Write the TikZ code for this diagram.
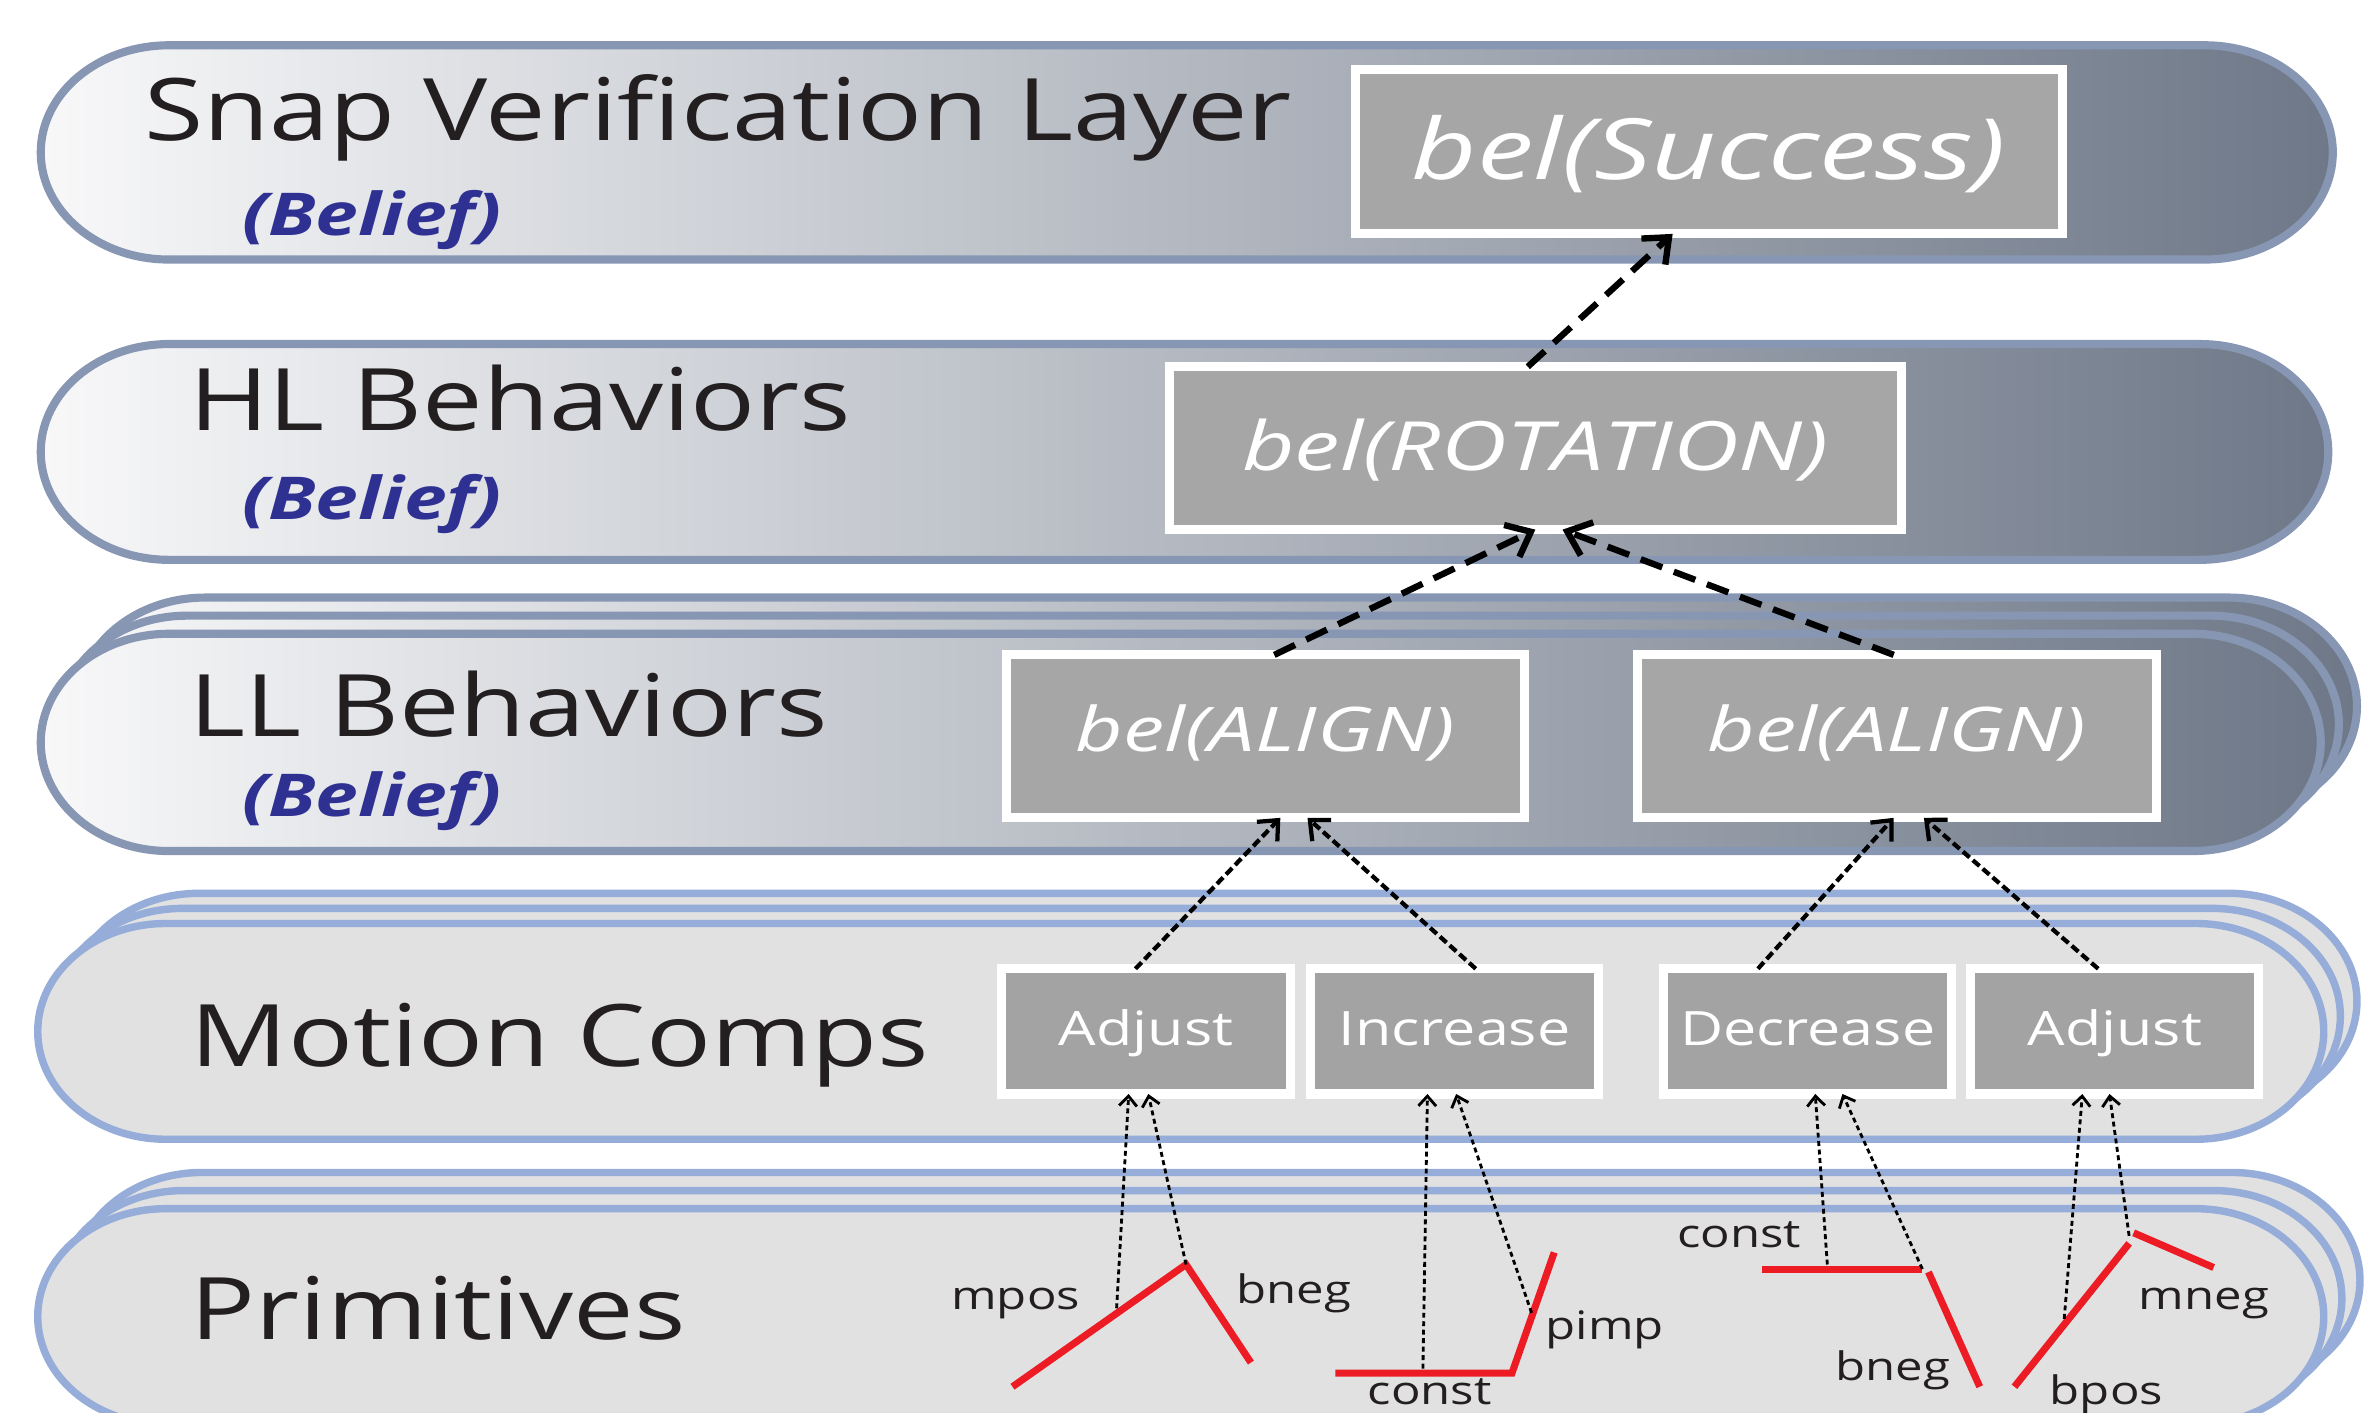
\documentclass[tikz,border=0pt]{standalone}
\usepackage{fontspec}
\setmainfont{Open Sans}[FakeStretch=1.25]
\newfontfamily\belfont{Open Sans}[FakeStretch=1.34]
\newfontfamily\notefont{Open Sans}[FakeStretch=1.3]
\usetikzlibrary{arrows.meta}

\definecolor{bandline}{HTML}{8797B3}
\definecolor{bandlight}{HTML}{F8F8F9}
\definecolor{banddark}{HTML}{6E7888}
\definecolor{compline}{HTML}{95ADD8}
\definecolor{compfill}{HTML}{E1E1E2}
\definecolor{boxgray}{HTML}{A6A6A6}
\definecolor{compgray}{HTML}{A3A3A3}
\definecolor{beliefblue}{HTML}{2E3192}
\definecolor{inkblack}{HTML}{231F20}
\definecolor{primred}{HTML}{ED1C24}

\newcommand\pxu{0.015cm}
% band with half-ellipse ends: left, top, right, bottom
\newcommand\band[4]{(#1+85,#2) -- (#3-85,#2)
  arc[start angle=-90,end angle=90,x radius=85,y radius=((#4)-(#2))/2]
  -- (#1+85,#4)
  arc[start angle=90,end angle=270,x radius=85,y radius=((#4)-(#2))/2] -- cycle}

\tikzset{
  topband/.style={draw=bandline, line width=2.3pt, left color=bandlight, right color=banddark},
  compband/.style={draw=compline, line width=2.1pt, fill=compfill},
  layertitle/.style={anchor=base west, inner sep=0pt, text=inkblack,
    font=\fontsize{24.4}{28}\selectfont},
  beliefnote/.style={anchor=base west, inner sep=0pt, text=beliefblue,
    font=\notefont\fontsize{16.7}{20}\selectfont\bfseries\itshape},
  belbox/.style={draw=white, line width=2.56pt, fill=boxgray, outer sep=0pt,
    inner sep=0pt, text=white},
  compbox/.style={draw=white, line width=2.56pt, fill=compgray, outer sep=0pt,
    inner sep=0pt, text=white, font=\fontsize{13.4}{16}\selectfont,
    text height=10.1pt, text depth=2pt,
    minimum width=191*\pxu, minimum height=83*\pxu},
  primlabel/.style={anchor=base west, inner sep=0pt, text=inkblack,
    font=\fontsize{11.1}{13}\selectfont},
  primline/.style={draw=primred, line width=2pt},
  upflow/.style={-{Straight Barb[length=6pt,width=10pt]}, line width=1.8pt,
    dash pattern=on 6.5pt off 3.5pt},
  midflow/.style={-{Straight Barb[length=4.5pt,width=8pt]}, line width=1.2pt,
    dash pattern=on 2.5pt off 1.2pt},
  lowflow/.style={-{Straight Barb[length=2.8pt,width=5pt]}, line width=0.8pt,
    dash pattern=on 1.4pt off 1pt},
}

\begin{document}
\begin{tikzpicture}[x=0.015cm, y=-0.015cm]
  \useasboundingbox (0,0) rectangle (1568,936);
  \clip (0,0) rectangle (1568,936);

  % layer bands, stacked copies drawn back to front
  \draw[topband] \band{27}{30}{1546}{172};
  \draw[topband] \band{27}{228}{1543}{371};
  \foreach \k in {2,1,0}
    \draw[topband] \band{27+12*\k}{420-12*\k}{1538+12*\k}{564-12*\k};
  \foreach \k in {2,1,0}
    \draw[compband] \band{25+11*\k}{612-10*\k}{1540+11*\k}{755-10*\k};
  \foreach \k in {2,1,0}
    \draw[compband] \band{25+12*\k}{801-12*\k}{1540+12*\k}{944-12*\k};

  % layer names
  \node[layertitle] (snap) at (95,93) {Snap Verification Layer};
  \node[beliefnote] (snapnote) at (160,156) {(Belief)};
  \node[layertitle] (hl) at (125,285) {HL Behaviors};
  \node[beliefnote] (hlnote) at (160,344) {(Belief)};
  \node[layertitle] (ll) at (125,488) {LL Behaviors};
  \node[beliefnote] (llnote) at (160,541) {(Belief)};
  \node[layertitle] (motion) at (126,707) {Motion Comps};
  \node[layertitle] (prim) at (126,888) {Primitives};

  % belief boxes
  \node[belbox, font=\belfont\fontsize{23.9}{28}\selectfont\itshape,
    text height=20.8pt, text depth=5pt,
    minimum width=469*\pxu, minimum height=109*\pxu] (success) at (1132.5,100.5) {bel(Success)};
  \node[belbox, font=\belfont\fontsize{19.2}{23}\selectfont\itshape,
    text height=16.5pt, text depth=4pt,
    minimum width=485*\pxu, minimum height=108*\pxu] (rotation) at (1017.5,297) {bel(ROTATION)};
  \node[belbox, font=\belfont\fontsize{17.4}{21}\selectfont\itshape,
    text height=12.5pt, text depth=4pt,
    minimum width=343*\pxu, minimum height=108*\pxu] (align1) at (838.5,488) {bel(ALIGN)};
  \node[belbox, font=\belfont\fontsize{17.4}{21}\selectfont\itshape,
    text height=12.5pt, text depth=4pt,
    minimum width=344*\pxu, minimum height=108*\pxu] (align2) at (1257,488) {bel(ALIGN)};

  % motion components
  \node[compbox] (adjust1) at (759.5,683.5) {Adjust};
  \node[compbox] (increase) at (964,683.5) {Increase};
  \node[compbox] (decrease) at (1198,683.5) {Decrease};
  \node[compbox] (adjust2) at (1401.5,683.5) {Adjust};

  % primitive profiles
  \draw[primline] (671,919) -- (786,838) -- (829,903);
  \draw[primline] (885,910) -- (1002,910) -- (1030,830);
  \draw[primline] (1168,841) -- (1274,841);
  \draw[primline] (1278,843) -- (1312,919);
  \draw[primline] (1335,919) -- (1411,824);
  \draw[primline] (1414,817) -- (1467,840);

  \coordinate (mposend) at (740,867);
  \coordinate (bnegend1) at (786,838);
  \coordinate (constend1) at (943,907);
  \coordinate (pimpend) at (1015,870);
  \coordinate (constend2) at (1211,838);
  \coordinate (bnegend2) at (1274,841);
  \coordinate (bposend) at (1368,874);
  \coordinate (mnegend) at (1411,819);

  \node[primlabel] (mposlbl) at (630,868) {mpos};
  \node[primlabel] (bneglbl1) at (819,864) {bneg};
  \node[primlabel] (constlbl1) at (906,931) {const};
  \node[primlabel] (pimplbl) at (1024,888) {pimp};
  \node[primlabel] (constlbl2) at (1111,827) {const};
  \node[primlabel] (bneglbl2) at (1216,915) {bneg};
  \node[primlabel] (mneglbl) at (1417,868) {mneg};
  \node[primlabel] (bposlbl) at (1358,931) {bpos};

  % belief propagation
  \draw[upflow] ([xshift=-5*\pxu]rotation.north) -- ([xshift=-24*\pxu]success.south);
  \draw[upflow] ([xshift=6*\pxu]align1.north) -- (rotation.south);
  \draw[upflow] ([xshift=-2*\pxu]align2.north) -- ([xshift=18*\pxu]rotation.south);

  \draw[midflow] ([xshift=-7*\pxu]adjust1.north) -- ([xshift=10*\pxu]align1.south);
  \draw[midflow] ([xshift=14*\pxu]increase.north) -- ([xshift=28*\pxu]align1.south);
  \draw[midflow] ([xshift=-33*\pxu]decrease.north) -- ([xshift=-2*\pxu]align2.south);
  \draw[midflow] ([xshift=-11*\pxu]adjust2.north) -- ([xshift=18*\pxu]align2.south);

  \draw[lowflow] (mposend) -- ([xshift=-11.5*\pxu]adjust1.south);
  \draw[lowflow] (bnegend1) -- ([xshift=1.5*\pxu]adjust1.south);
  \draw[lowflow] (constend1) -- ([xshift=-18*\pxu]increase.south);
  \draw[lowflow] (pimpend) -- ([xshift=1*\pxu]increase.south);
  \draw[lowflow] (constend2) -- ([xshift=5*\pxu]decrease.south);
  \draw[lowflow] (bnegend2) -- ([xshift=23*\pxu]decrease.south);
  \draw[lowflow] (bposend) -- ([xshift=-21.5*\pxu]adjust2.south);
  \draw[lowflow] (mnegend) -- ([xshift=-3.5*\pxu]adjust2.south);
\end{tikzpicture}
\end{document}
